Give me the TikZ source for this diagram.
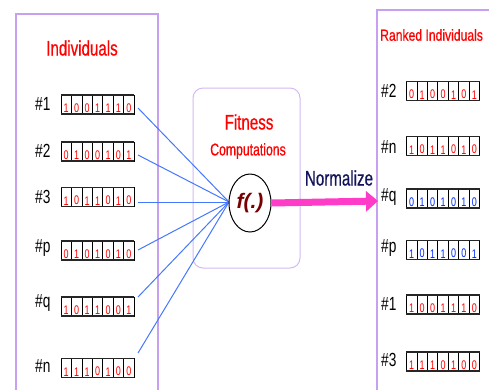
\documentclass[tikz,border=0pt]{standalone}
\usepackage{fontspec}
\setmainfont{Liberation Sans}
\newfontfamily\nar[FakeStretch=0.72]{Liberation Sans}
\newfontfamily\narb[FakeStretch=0.72,FakeBold=0.6]{Liberation Sans}
\newfontfamily\narw[FakeStretch=0.76,FakeBold=0.6]{Liberation Sans}
\usetikzlibrary{fit,arrows.meta,shapes.geometric}
\definecolor{panel}{RGB}{200,160,240}
\definecolor{cbox}{RGB}{212,185,245}
\definecolor{tred}{RGB}{255,0,0}
\definecolor{dblue}{RGB}{0,40,255}
\definecolor{lblue}{RGB}{70,120,255}
\definecolor{pinkarrow}{RGB}{255,60,200}
\definecolor{navy}{RGB}{20,20,90}
\definecolor{maroon}{RGB}{120,0,0}
\tikzset{
  cell/.style={draw=black,line width=0.8pt,minimum width=10.45pt,minimum height=19pt,inner sep=0pt,outer sep=0pt},
  digit/.style={inner sep=1.3pt,font=\nar\fontsize{12.5}{12.5}\selectfont},
  lab/.style={inner sep=0pt,font=\nar\fontsize{19}{19}\selectfont},
  ttl/.style={inner sep=0pt,text=tred,font=\narb\fontsize{21}{21}\selectfont},
}
\newcommand\bitrow[5]{%
  \foreach \d [count=\i] in {#4} {
    \node[cell] (#1-\i) at ({#2+(\i-0.5)*10.45},#3) {};
    \node[digit,text=#5,anchor=south] (#1-d\i) at (#1-\i.south) {\d};
  }
  \node[fit=(#1-1)(#1-7),inner sep=0pt] (#1) {};
  \draw[line width=1.5pt,black!85] (#1.north west)--(#1.north east) (#1.south west)--(#1.south east);
}
\begin{document}
\begin{tikzpicture}[x=1pt,y=-1pt]
\useasboundingbox (0,0) rectangle (489,389);
\clip (0,0) rectangle (489,389);
% panels
\draw[panel,line width=2.5pt] (16,400) |- (158,14) -- (158,400);
\draw[panel,line width=2.5pt] (377,400) |- (520,10);
% centre box
\node[draw=cbox,line width=1pt,rounded corners=10pt,minimum width=107pt,minimum height=180pt,inner sep=0pt] (fc) at (246.5,178) {};
% titles
\node[ttl] (ind) at (82,48) {Individuals};
\node[ttl,anchor=west,font=\narw\fontsize{16}{16}\selectfont] (rind) at (380,35) {Ranked Individuals};
\node[ttl] (fit) at (249,122) {Fitness};
\node[ttl,font=\narb\fontsize{17}{17}\selectfont] (comp) at (248,151) {Computations};
\node[inner sep=0pt,text=navy,font=\narb\fontsize{21}{21}\selectfont] (norm) at (339,178) {Normalize};
% left rows
\bitrow{L1}{61}{104.5}{1,0,0,1,1,1,0}{tred}
\bitrow{L2}{61}{151.5}{0,1,0,0,1,0,1}{tred}
\bitrow{L3}{61}{197}{1,0,1,1,0,1,0}{tred}
\bitrow{Lp}{61}{250.5}{0,1,0,1,0,1,0}{tred}
\bitrow{Lq}{61}{306.5}{1,0,1,1,0,0,1}{tred}
\bitrow{Ln}{61}{368}{1,1,1,0,1,0,0}{tred}
\node[lab,anchor=base west] (tL1) at (35,110) {\#1};
\node[lab,anchor=base west] (tL2) at (35,157) {\#2};
\node[lab,anchor=base west] (tL3) at (35,203) {\#3};
\node[lab,anchor=base west] (tLp) at (35,252) {\#p};
\node[lab,anchor=base west] (tLq) at (35,307) {\#q};
\node[lab,anchor=base west] (tLn) at (35,372) {\#n};
% right rows
\bitrow{R2}{406.5}{91}{0,1,0,0,1,0,1}{tred}
\bitrow{Rn}{406.5}{146}{1,0,1,1,0,1,0}{tred}
\bitrow{Rq}{406.5}{198.5}{0,1,0,1,0,1,0}{dblue}
\bitrow{Rp}{406.5}{250}{1,0,1,1,0,0,1}{dblue}
\bitrow{R1}{406.5}{304.5}{1,0,0,1,1,1,0}{tred}
\bitrow{R3}{406.5}{361.5}{1,1,1,0,1,0,0}{tred}
\node[lab,anchor=base west] (tR2) at (381,97) {\#2};
\node[lab,anchor=base west] (tRn) at (381,153) {\#n};
\node[lab,anchor=base west] (tRq) at (381,201) {\#q};
\node[lab,anchor=base west] (tRp) at (381,252) {\#p};
\node[lab,anchor=base west] (tR1) at (381,310) {\#1};
\node[lab,anchor=base west] (tR3) at (381,366) {\#3};
% function node
\coordinate (s1) at (138,108);
\coordinate (s2) at (138,155);
\coordinate (s3) at (138,202);
\coordinate (s4) at (138,250);
\coordinate (s5) at (138,297);
\coordinate (s6) at (138,353);
\coordinate (fw) at (229,202);
\foreach \s in {s1,s2,s3,s4,s5,s6} \draw[lblue,line width=1pt] (\s) -- (fw);
\node[ellipse,draw=black,fill=white,line width=1pt,minimum width=42pt,minimum height=58pt,inner sep=0pt,text=maroon,font=\bfseries\itshape\fontsize{21}{21}\selectfont] (f) at (250,203) {f(.)};
\coordinate (aend) at (378,201);
\draw[pinkarrow,line width=7pt,-{Triangle[length=12pt,width=20pt]}] (f.east) -- (aend);
\end{tikzpicture}
\end{document}
